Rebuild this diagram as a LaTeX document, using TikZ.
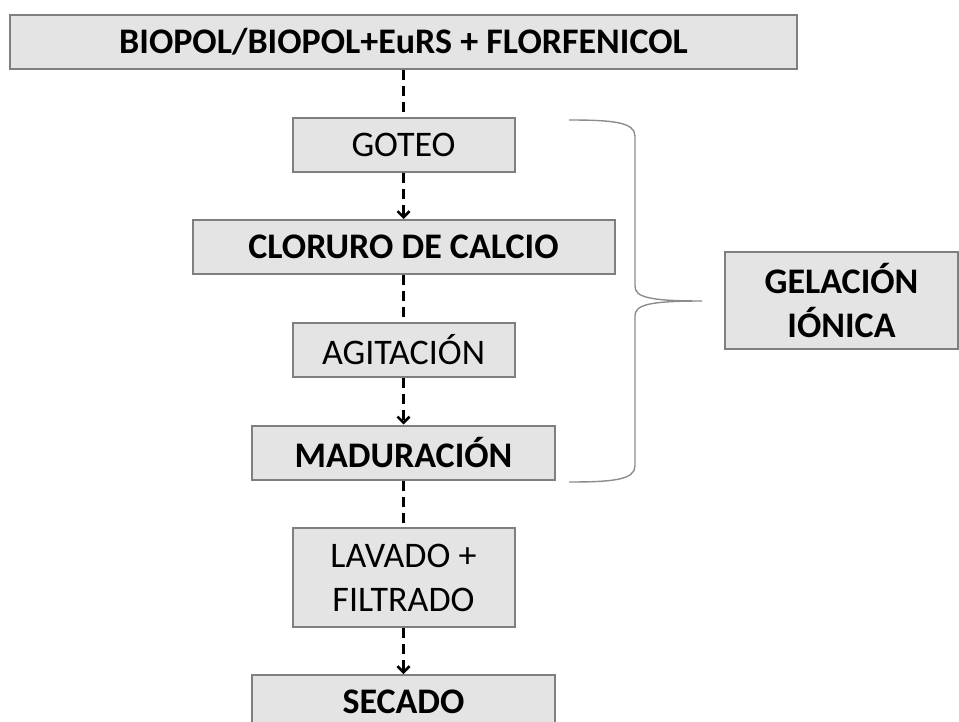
\documentclass[tikz,border=0pt]{standalone}
\usepackage{fontspec}
\setmainfont{Carlito}
\usetikzlibrary{
graphs,
positioning,
arrows.meta,
}
\definecolor{boxfill}{HTML}{E4E4E4}
\definecolor{boxline}{HTML}{7F7F7F}
\definecolor{braceline}{HTML}{8C8C8C}
\tikzset{
every node/.style={align=center},
process/.style={rectangle, draw=boxline, fill=boxfill, line width=1pt, inner sep=0pt,
  font=\fontsize{18}{22}\selectfont},
keystep/.style={process, font=\fontsize{18}{22}\selectfont\bfseries},
flow/.style={dash pattern=on 5pt off 3pt, line width=1.3pt},
brace/.style={draw=braceline, line width=0.7pt},
>={Straight Barb[length=3pt,width=6pt]},
}

\begin{document}
\begin{tikzpicture}[x=0.5pt, y=-0.5pt]
    \useasboundingbox (0,0) rectangle (959,722);
    \node [keystep, minimum width=393.5pt, minimum height=27pt] (src) at (403.5,42) {BIOPOL/BIOPOL+EuRS + FLORFENICOL};
    \node [process, minimum width=111pt, minimum height=27pt] (goteo) at (403.5,145) {GOTEO};
    \node [keystep, minimum width=211pt, minimum height=27pt] (cloruro) at (403.5,247) {CLORURO DE CALCIO};
    \node [process, minimum width=111pt, minimum height=27pt] (agit) at (403.5,350) {AGITACIÓN};
    \node [keystep, minimum width=151.5pt, minimum height=27pt] (madur) at (403.5,452.5) {MADURACIÓN};
    \node [process, minimum width=111pt, minimum height=49.5pt] (lavado) at (403.5,577.5) {LAVADO +\\FILTRADO};
    \node [keystep, minimum width=151.5pt, minimum height=27pt] (secado) at (403.5,702) {SECADO};
    \node [keystep, minimum width=116.5pt, minimum height=48.5pt] (gel) at (841.5,300.5) {GELACIÓN\\IÓNICA};
\graph [use existing nodes, edges=flow] {
    src -- goteo -> cloruro -- agit -> madur -- lavado -> secado
};
    % brace round the gelation steps
    \coordinate (btop) at (569,120);
    \coordinate (bbot) at (569,482);
    \coordinate (btip) at (702,301);
    \draw [brace] (btop) .. controls (612,120) and (635,122) .. (635,136) -- (635,286)
        .. controls (635,297) and (648,301) .. (btip)
        .. controls (648,301) and (635,305) .. (635,316) -- (635,466)
        .. controls (635,480) and (612,482) .. (bbot);
\end{tikzpicture}
\end{document}
